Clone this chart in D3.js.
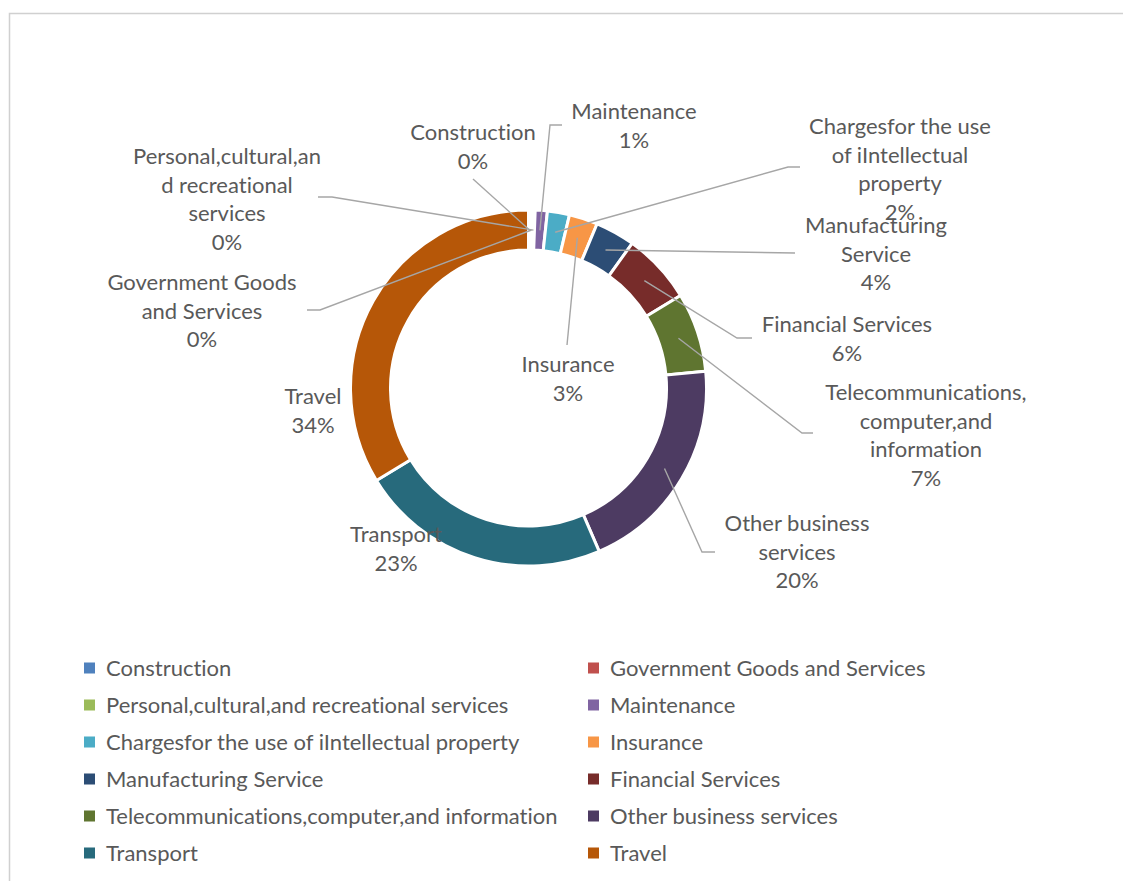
<!DOCTYPE html>
<html>
<head>
<meta charset="utf-8">
<script src="https://cdn.jsdelivr.net/npm/d3@7"></script>
<style>
  html, body { margin: 0; padding: 0; background: #ffffff; }
  svg { display: block; }
  text { font-family: Lato, "Open Sans", sans-serif; fill: #595959; font-variant-ligatures: none; }
</style>
</head>
<body>
<svg id="chart" width="1123" height="881"></svg>
<script>
// Services trade breakdown by category (share of total, %)
const categories = [
  "Construction",
  "Government Goods and Services",
  "Personal,cultural,and recreational services",
  "Maintenance",
  "Chargesfor the use of iIntellectual property",
  "Insurance",
  "Manufacturing Service",
  "Financial Services",
  "Telecommunications,computer,and information",
  "Other business services",
  "Transport",
  "Travel"
];
const shares = [0.2, 0.2, 0.2, 1.1, 2.0, 2.6, 3.6, 6.4, 7.2, 20.0, 22.8, 33.7];
const colors = [
  "#4F81BD", "#C0504D", "#9BBB59", "#8064A2", "#4BACC6", "#F79646",
  "#2C4D75", "#772C2A", "#5F7530", "#4D3B62", "#276A7C", "#B65708"
];
// Category names as they wrap in the data labels
const labelLines = [
  ["Construction"],
  ["Government Goods", "and Services"],
  ["Personal,cultural,an", "d recreational", "services"],
  ["Maintenance"],
  ["Chargesfor the use", "of iIntellectual", "property"],
  ["Insurance"],
  ["Manufacturing", "Service"],
  ["Financial Services"],
  ["Telecommunications,", "computer,and", "information"],
  ["Other business", "services"],
  ["Transport"],
  ["Travel"]
];

// Data label placement: centre x / first-line y, plus leader start and elbow
const labelLayout = [
  { x: 473, y: 132, leader: [[473, 179], [473, 179]] },
  { x: 202, y: 282, leader: [[307, 310], [320, 310]] },
  { x: 227, y: 156, leader: [[318, 197], [332, 197]] },
  { x: 634, y: 111, leader: [[562, 125], [550, 125]] },
  { x: 900, y: 126, leader: [[800, 167], [788, 167]] },
  { x: 568, y: 364, leader: [[567, 345], [567, 345]] },
  { x: 876, y: 225, leader: [[795, 253], [795, 253]] },
  { x: 847, y: 324, leader: [[752, 338], [737, 338]] },
  { x: 926, y: 392, leader: [[813, 433], [802, 433]] },
  { x: 797, y: 523, leader: [[715, 552], [702, 552]] },
  { x: 396, y: 534, leader: null },
  { x: 313, y: 396, leader: null }
];

const W = 1123, H = 881;
const cx = 528.5, cy = 388;
const outerR = 178, innerR = 138;
const lineH = 28.8;
const fontSize = 22;

const data = categories.map((name, i) => ({
  name, share: shares[i], color: colors[i], lines: labelLines[i], layout: labelLayout[i]
}));

const svg = d3.select("#chart");

// chart area border
svg.append("rect")
  .attr("x", 9.5).attr("y", 13.5)
  .attr("width", W + 20).attr("height", H + 20)
  .attr("fill", "none")
  .attr("stroke", "#d0d0d0")
  .attr("stroke-width", 1.5);

const pie = d3.pie().sort(null).value(d => d.share).startAngle(0).endAngle(2 * Math.PI);
const arcs = pie(data);
const arc = d3.arc().innerRadius(innerR).outerRadius(outerR);
const midArc = d3.arc().innerRadius((innerR + outerR) / 2).outerRadius((innerR + outerR) / 2);

const ring = svg.append("g").attr("transform", `translate(${cx},${cy})`);
ring.selectAll("path.slice")
  .data(arcs)
  .join("path")
  .attr("class", "slice")
  .attr("d", arc)
  .attr("fill", d => d.data.color)
  .attr("stroke", "#ffffff")
  .attr("stroke-width", 3)
  .attr("stroke-linejoin", "miter");

// leader lines from label to slice
const leaderLine = d3.line();
svg.append("g").selectAll("path.leader")
  .data(arcs.filter(d => d.data.layout.leader))
  .join("path")
  .attr("class", "leader")
  .attr("d", d => {
    const c = midArc.centroid(d);
    const pts = d.data.layout.leader.concat([[cx + c[0], cy + c[1]]]);
    return leaderLine(pts);
  })
  .attr("fill", "none")
  .attr("stroke", "#a6a6a6")
  .attr("stroke-width", 1.4);

// data labels
const pct = d3.format(".0%");
const labels = svg.append("g").selectAll("text.dlabel")
  .data(arcs)
  .join("text")
  .attr("class", "dlabel")
  .attr("text-anchor", "middle")
  .attr("font-size", fontSize);
labels.each(function(d) {
  const t = d3.select(this);
  const lines = d.data.lines.concat([pct(d.data.share / 100)]);
  lines.forEach((ln, i) => {
    t.append("tspan")
      .attr("x", d.data.layout.x)
      .attr("y", d.data.layout.y + i * lineH)
      .attr("dy", "0.35em")
      .text(ln);
  });
});

// legend, two columns
const legendCols = [84, 588];
const legendTop = 668, legendRow = 37;
const legend = svg.append("g").selectAll("g.item")
  .data(data)
  .join("g")
  .attr("class", "item")
  .attr("transform", (d, i) => `translate(${legendCols[i % 2]},${legendTop + Math.floor(i / 2) * legendRow})`);
legend.append("rect")
  .attr("x", 0).attr("y", -5.5)
  .attr("width", 11).attr("height", 11)
  .attr("fill", d => d.color);
legend.append("text")
  .attr("x", 22).attr("y", 0)
  .attr("dy", "0.35em")
  .attr("font-size", fontSize)
  .text(d => d.name);
</script>
</body>
</html>
